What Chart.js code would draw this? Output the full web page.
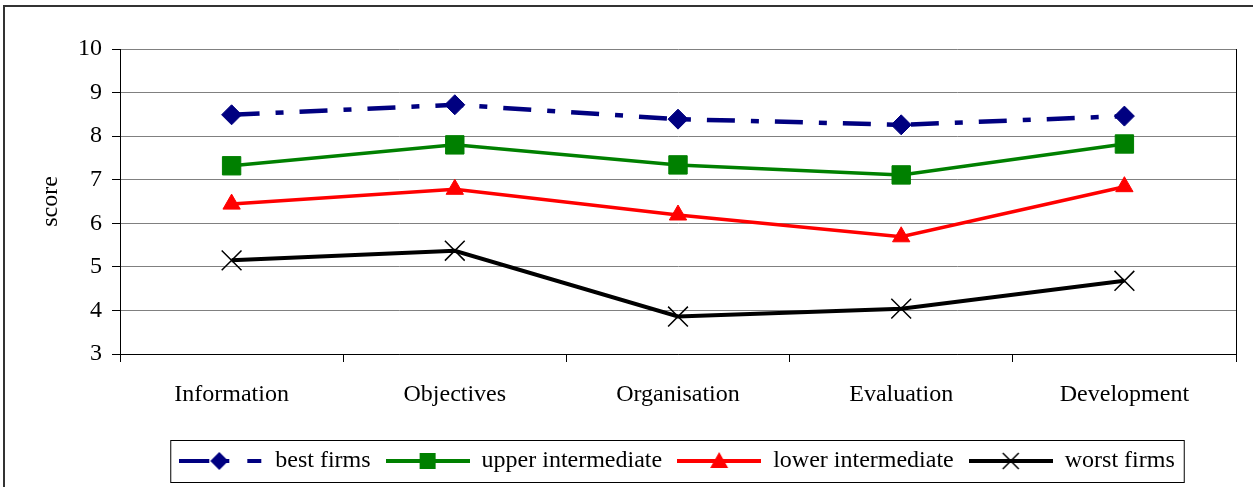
<!DOCTYPE html>
<html>
<head>
<meta charset="utf-8">
<script src="https://cdn.jsdelivr.net/npm/chart.js@4.4.0/dist/chart.umd.min.js"></script>
<style>
  html, body { margin: 0; padding: 0; background: #fff; }
  #wrap { width: 1253px; height: 487px; }
</style>
</head>
<body>
<div id="wrap"><canvas id="chartScores"></canvas></div>
<script>
const categories = ['Information', 'Objectives', 'Organisation', 'Evaluation', 'Development'];
const seriesNames = ['best firms', 'upper intermediate', 'lower intermediate', 'worst firms'];
const bestFirms = [8.49, 8.72, 8.39, 8.26, 8.46];
const upperIntermediate = [7.32, 7.80, 7.34, 7.11, 7.82];
const lowerIntermediate = [6.44, 6.78, 6.19, 5.69, 6.84];
const worstFirms = [5.15, 5.37, 3.86, 4.04, 4.68];
const yMin = 3, yMax = 10, yStep = 1;

const serif = '"Liberation Serif", "Times New Roman", serif';
Chart.defaults.font.family = serif;
Chart.defaults.color = '#000';

// legend icons: line + marker, like the office style legend
function makeIcon(color, marker, dashed) {
  const c = document.createElement('canvas');
  c.width = 84; c.height = 24;
  const g = c.getContext('2d');
  g.strokeStyle = color;
  g.fillStyle = color;
  g.lineWidth = 4;
  g.beginPath();
  if (dashed) {
    g.moveTo(0, 12); g.lineTo(30, 12);
    g.moveTo(42, 12); g.lineTo(50, 12);
    g.moveTo(68, 12); g.lineTo(82, 12);
  } else {
    g.moveTo(0, 12); g.lineTo(84, 12);
  }
  g.stroke();
  const cx = dashed ? 40 : 42, cy = 12;
  g.beginPath();
  if (marker === 'diamond') {
    g.moveTo(cx, cy - 9); g.lineTo(cx + 9, cy); g.lineTo(cx, cy + 9); g.lineTo(cx - 9, cy);
    g.closePath(); g.fill();
  } else if (marker === 'square') {
    g.rect(cx - 8, cy - 8, 16, 16); g.fill();
  } else if (marker === 'triangle') {
    g.moveTo(cx, cy - 9); g.lineTo(cx + 9, cy + 7); g.lineTo(cx - 9, cy + 7);
    g.closePath(); g.fill();
  } else {
    g.lineWidth = 1.5;
    g.moveTo(cx - 8, cy - 8); g.lineTo(cx + 8, cy + 8);
    g.moveTo(cx + 8, cy - 8); g.lineTo(cx - 8, cy + 8);
    g.stroke();
  }
  return c;
}

const legendIcons = [
  makeIcon('#000080', 'diamond', true),
  makeIcon('#008000', 'square', false),
  makeIcon('#ff0000', 'triangle', false),
  makeIcon('#000000', 'cross', false)
];

const frame = {
  id: 'frame',
  afterLayout(chart) {
    // legend is centred on the plot in the original, not on the canvas
    chart.legend.left += 59;
    chart.legend.right += 59;
  },
  beforeDraw(chart) {
    const ctx = chart.ctx;
    ctx.save();
    ctx.strokeStyle = '#333';
    ctx.lineWidth = 2;
    ctx.strokeRect(4, 6, 1400, 600);
    ctx.restore();
  },
  afterDraw(chart) {
    const ctx = chart.ctx;
    const a = chart.chartArea;
    ctx.save();
    ctx.strokeStyle = '#000';
    ctx.lineWidth = 1;
    ctx.beginPath();
    ctx.moveTo(Math.round(a.right) + 0.5, a.top);
    ctx.lineTo(Math.round(a.right) + 0.5, a.bottom + 8);
    ctx.stroke();
    const hb = chart.legend.legendHitBoxes;
    if (hb && hb.length) {
      const first = hb[0], last = hb[hb.length - 1];
      const cy = first.top + first.height / 2;
      ctx.strokeRect(first.left - 8.5, Math.round(cy - 21) + 0.5, last.left + last.width - first.left + 18, 42);
    }
    ctx.restore();
  }
};

new Chart(document.getElementById('chartScores'), {
  type: 'line',
  data: {
    labels: categories,
    datasets: [{
      label: seriesNames[0],
      data: bestFirms,
      borderColor: '#000080',
      backgroundColor: '#000080',
      borderWidth: 4.5,
      borderDash: [28, 16, 8, 16],
      pointStyle: 'rectRot',
      pointRadius: 10,
      pointBorderWidth: 1,
      pointBorderColor: '#000080'
    }, {
      label: seriesNames[1],
      data: upperIntermediate,
      borderColor: '#008000',
      backgroundColor: '#008000',
      borderWidth: 3.5,
      pointStyle: 'rect',
      pointRadius: 13,
      pointBorderWidth: 1,
      pointBorderColor: '#008000'
    }, {
      label: seriesNames[2],
      data: lowerIntermediate,
      borderColor: '#ff0000',
      backgroundColor: '#ff0000',
      borderWidth: 3.5,
      pointStyle: 'triangle',
      pointRadius: 10,
      pointBorderWidth: 1,
      pointBorderColor: '#ff0000'
    }, {
      label: seriesNames[3],
      data: worstFirms,
      borderColor: '#000000',
      backgroundColor: '#000000',
      borderWidth: 4,
      pointStyle: 'crossRot',
      pointRadius: 14,
      pointBorderWidth: 1.5,
      pointBorderColor: '#000000'
    }]
  },
  options: {
    responsive: true,
    maintainAspectRatio: false,
    animation: false,
    layout: { padding: { left: 0, right: 17, top: 49, bottom: 4 } },
    scales: {
      x: {
        offset: true,
        grid: { offset: true, drawOnChartArea: false, drawTicks: true, tickLength: 8, color: '#000' },
        border: { display: true, color: '#000' },
        ticks: { font: { size: 24 }, padding: 18, color: '#000', maxRotation: 0 },
        afterFit(scale) { scale.height = 80; }
      },
      y: {
        min: yMin,
        max: yMax,
        ticks: { stepSize: yStep, font: { size: 24 }, padding: 10, color: '#000' },
        grid: { color: '#808080', tickColor: '#000', tickLength: 8, lineWidth: 1 },
        border: { display: true, color: '#000' },
        title: { display: true, text: 'score', font: { size: 24 }, color: '#000', padding: { top: 36, bottom: 0 } },
        afterFit(scale) { scale.width = 120; }
      }
    },
    plugins: {
      legend: {
        position: 'bottom',
        labels: {
          usePointStyle: true,
          pointStyleWidth: 84,
          padding: 15,
          color: '#000',
          font: { size: 24 },
          generateLabels(chart) {
            const items = Chart.defaults.plugins.legend.labels.generateLabels(chart);
            items.forEach((it, i) => { it.pointStyle = legendIcons[i]; it.lineDash = []; });
            return items;
          }
        }
      },
      tooltip: { enabled: false }
    }
  },
  plugins: [frame]
});
</script>
</body>
</html>
